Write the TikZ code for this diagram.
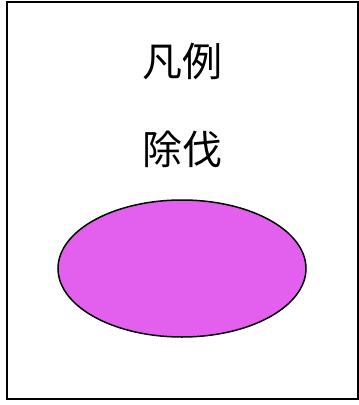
\documentclass[tikz,border=0pt]{standalone}
\usepackage{fontspec}
\usetikzlibrary{shapes.geometric}
\newfontfamily\jpfont{Noto Sans CJK JP}
\definecolor{fillmag}{HTML}{E35FEE}
\tikzset{
  frame/.style={draw=black, line width=2pt},
  label/.style={font=\jpfont\fontsize{40}{48}\selectfont, anchor=base, inner sep=0pt},
  blob/.style={ellipse, draw=black, line width=1.5pt, fill=fillmag, inner sep=0pt, minimum width=248pt, minimum height=137pt}
}
\begin{document}
\begin{tikzpicture}[x=1pt,y=-1pt]
\useasboundingbox (0,0) rectangle (359,405);
\node[frame, minimum width=351pt, minimum height=397pt, inner sep=0pt] (box) at (182,200) {};
\node[label] (title) at (182,76) {凡例};
\node[label] (item) at (182,164) {除伐};
\node[blob] (sample) at (182,268.5) {};
\end{tikzpicture}
\end{document}
